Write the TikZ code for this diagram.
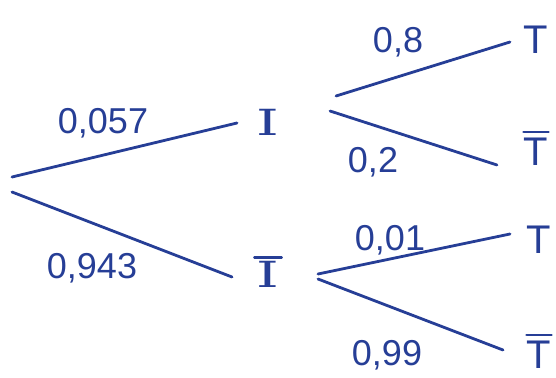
\documentclass[tikz,border=0pt]{standalone}
\usepackage{fontspec}
\setmainfont{Liberation Sans}
\newfontfamily\serifI{DejaVu Serif}
\usetikzlibrary{calc}
\definecolor{inkblue}{RGB}{38,62,150}
\begin{document}
\begin{tikzpicture}[x=1pt,y=-1pt,
  ink/.style={draw=inkblue, line width=2.8pt, line cap=round},
  lab/.style={text=inkblue, inner sep=0pt, font=\fontsize{36}{38}\selectfont},
  evI/.style={text=inkblue, inner sep=0pt, font=\serifI\fontsize{36}{38}\selectfont},
  evT/.style={text=inkblue, inner sep=0pt, font=\fontsize{40}{42}\selectfont}]
\useasboundingbox (0,0) rectangle (556,377);
% nodes
\coordinate (root) at (12,185);
\node[evI] (I)  at (268,122) {\scalebox{1.6}[1]{I}};
\node[evI] (Ib) at (268,274) {\scalebox{1.6}[1]{I}};
\node[evT] (T1) at (536,40) {T};
\node[evT] (T1b) at (536,152) {T};
\node[evT] (T2) at (539,240) {T};
\node[evT] (T2b) at (539,355) {T};
% bars
\draw[ink] ($(Ib.north west)+(-2,-3)$) -- ($(Ib.north east)+(2,-3)$);
\draw[ink] ($(T1b.north west)+(0,-6)$) -- ($(T1b.north east)+(0,-6)$);
\draw[ink] ($(T2b.north west)+(0,-6)$) -- ($(T2b.north east)+(0,-6)$);
% connectors
\draw[ink] ($(root)+(0,-8)$) -- ($(I)+(-31,1)$);
\draw[ink] ($(root)+(0,7)$) -- ($(Ib)+(-36,3)$);
\draw[ink] ($(I)+(68,-26)$) -- ($(T1)+(-26,2)$);
\draw[ink] ($(I)+(62,-11)$) -- ($(T1b)+(-39,13)$);
\draw[ink] ($(Ib)+(50,0)$) -- ($(T2)+(-29,-6)$);
\draw[ink] ($(Ib)+(50,5)$) -- ($(T2b)+(-36,-5)$);
% labels
\node[lab] (l1) at (103,123) {0,057};
\node[lab] (l2) at (92,268) {0,943};
\node[lab] (l3) at (398,42) {0,8};
\node[lab] (l4) at (373,162) {0,2};
\node[lab] (l5) at (390,240) {0,01};
\node[lab] (l6) at (387,355) {0,99};
\end{tikzpicture}
\end{document}
